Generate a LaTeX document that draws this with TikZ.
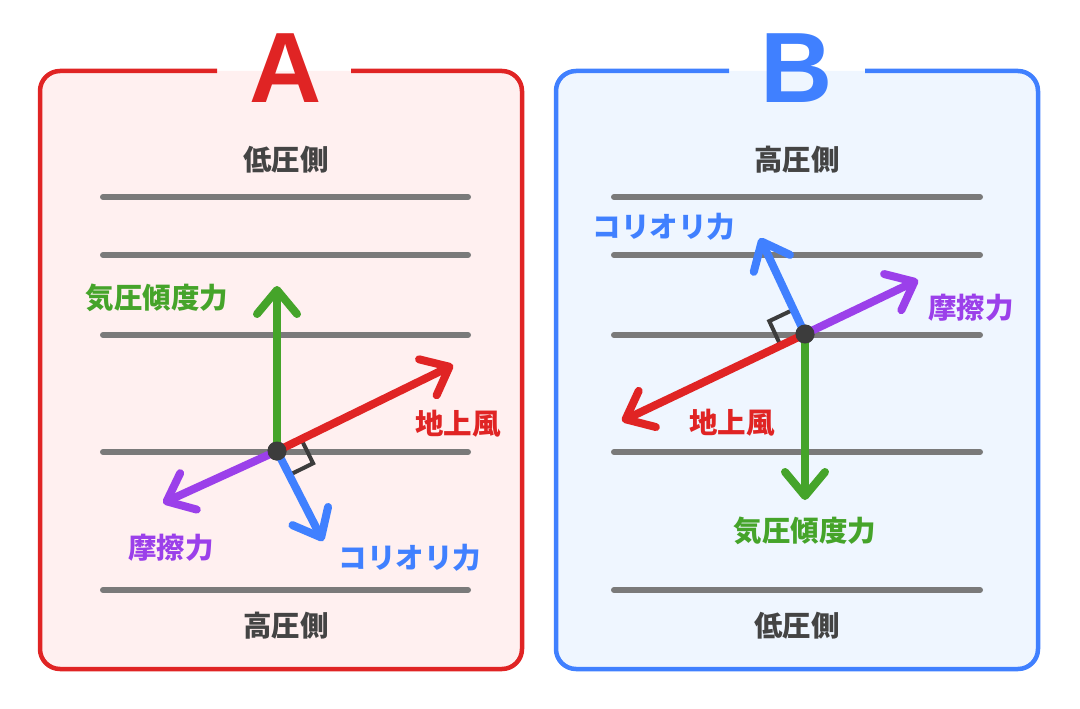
\documentclass[tikz,border=0pt]{standalone}
\usepackage{fontspec}
\setmainfont{Liberation Sans}
\newfontfamily\jp{Noto Sans CJK JP}
\usetikzlibrary{arrows.meta}
\definecolor{cred}{HTML}{E02424}
\definecolor{cgreen}{HTML}{45A42A}
\definecolor{cblue}{HTML}{4080FF}
\definecolor{cpurple}{HTML}{9B40EA}
\definecolor{cgray}{HTML}{7A7A7A}
\definecolor{ctext}{HTML}{444444}
\definecolor{cdot}{HTML}{3C3C3C}
\definecolor{fillA}{HTML}{FFF0F0}
\definecolor{fillB}{HTML}{EFF6FF}
\begin{document}
\begin{tikzpicture}[x=1pt,y=-1pt,
  frame/.style={line width=4.5pt, rounded corners=20pt},
  isobar/.style={line width=6pt, draw=cgray, line cap=round},
  force/.style={line width=8pt, line cap=round, line join=round,
    -{Straight Barb[length=24pt,width=40pt,round]}},
  lbl/.style={font=\jp\bfseries\fontsize{28.5}{28.5}\selectfont, inner sep=0pt,
    text height=0.88em, text depth=0.12em, yshift=-6.5pt},
  side/.style={lbl, text=ctext},
  title/.style={font=\bfseries\fontsize{100}{100}\selectfont, inner sep=0pt},
  ra/.style={line width=4pt, draw=cdot, line join=miter},
  dotnode/.style={circle, fill=cdot, minimum size=19pt, inner sep=0pt}]
\useasboundingbox (0,0) rectangle (1080,709);

% ---------- Panel A ----------
\fill[fillA, rounded corners=20pt] (40,71) rectangle (522,669);
\draw[frame, cred] (217,71) -- (40,71) -- (40,669) -- (522,669) -- (522,71) -- (351,71);
\node[title, text=cred] (titleA) at (286,68) {A};
\node[side] (lowA) at (286,160) {低圧側};
\node[side] (highA) at (286,626) {高圧側};
\foreach \yy/\nm in {197/a1,255/a2,335/a3,452/a4,590/a5}{
  \coordinate (\nm l) at (103,\yy); \coordinate (\nm r) at (468,\yy);
  \draw[isobar] (\nm l) -- (\nm r);
}
\node[dotnode] (dA) at (277,451) {};
\coordinate (gA) at (277,286);
\coordinate (rA) at (453,365);
\coordinate (pA) at (163,503);
\coordinate (bA) at (323,541);
\draw[ra] (301.2,439.1) -- (313.1,463.3) -- (288.9,475.2);
\draw[force, cgreen] (dA.center) -- (gA);
\draw[force, cred] (dA.center) -- (rA);
\draw[force, cpurple] (dA.center) -- (pA);
\draw[force, cblue] (dA.center) -- (bA);
\node[dotnode] at (dA) {};
\node[lbl, text=cgreen] (lgA) at (157,298) {気圧傾度力};
\node[lbl, text=cred] (lrA) at (458,424) {地上風};
\node[lbl, text=cpurple] (lpA) at (171,548) {摩擦力};
\node[lbl, text=cblue] (lbA) at (410,558) {コリオリ力};

% ---------- Panel B ----------
\fill[fillB, rounded corners=20pt] (556,71) rectangle (1038,669);
\draw[frame, cblue] (729,71) -- (556,71) -- (556,669) -- (1038,669) -- (1038,71) -- (865,71);
\node[title, text=cblue] (titleB) at (797,68) {B};
\node[side] (highB) at (797,160) {高圧側};
\node[side] (lowB) at (797,626) {低圧側};
\foreach \yy/\nm in {197/b1,255/b2,335/b3,452/b4,590/b5}{
  \coordinate (\nm l) at (614,\yy); \coordinate (\nm r) at (980,\yy);
  \draw[isobar] (\nm l) -- (\nm r);
}
\node[dotnode] (dB) at (805,334) {};
\coordinate (gB) at (805,500);
\coordinate (rB) at (622,421);
\coordinate (pB) at (918,280);
\coordinate (bB) at (760,238);
\draw[ra] (780.6,345.6) -- (769.3,321.1) -- (793.7,309.5);
\draw[force, cgreen] (dB.center) -- (gB);
\draw[force, cred] (dB.center) -- (rB);
\draw[force, cpurple] (dB.center) -- (pB);
\draw[force, cblue] (dB.center) -- (bB);
\node[dotnode] at (dB) {};
\node[lbl, text=cblue] (lbB) at (664,227) {コリオリ力};
\node[lbl, text=cpurple] (lpB) at (971,308) {摩擦力};
\node[lbl, text=cred] (lrB) at (732,423) {地上風};
\node[lbl, text=cgreen] (lgB) at (805,531) {気圧傾度力};
\end{tikzpicture}
\end{document}
